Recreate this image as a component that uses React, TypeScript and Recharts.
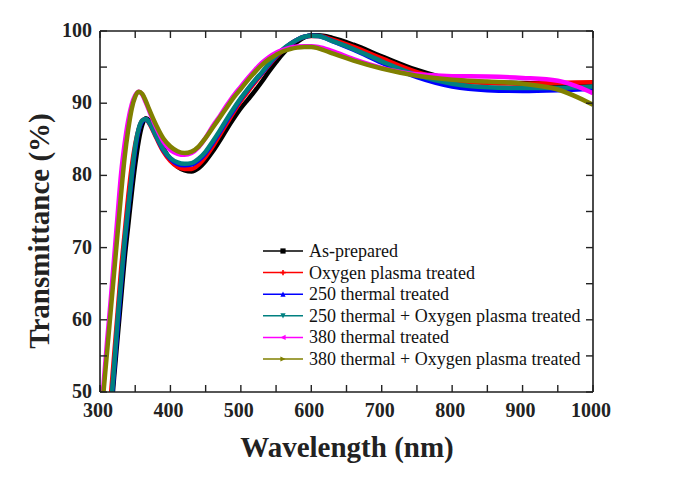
import React from 'react';
import { LineChart, Line, XAxis, YAxis, Legend } from 'recharts';

const wavelengths = [300,305,310,315,320,325,330,335,340,345,350,355,360,365,370,380,390,400,410,420,430,440,450,460,470,480,490,500,510,520,530,540,550,560,570,580,590,600,610,630,660,700,750,800,850,900,950,1000];

const asPrepared = [28,34,40,46,52,57.5,63,68.5,73,77.5,81.5,84.8,87,87.9,87.6,85.8,83.8,82.2,81.2,80.7,80.55,81.0,82.0,83.3,84.8,86.4,87.9,89.3,90.5,91.7,93.0,94.4,95.7,96.9,97.8,98.5,99.1,99.4,99.4,99.05,98.1,96.5,94.6,93.3,92.9,92.8,92.7,92.7];
const oxygenPlasma = [31,37,43,49,55,61,67,72,77,81.2,84.3,86.4,87.6,87.8,87.2,85.2,83.3,82.0,81.2,80.9,80.9,81.5,82.6,84.0,85.6,87.2,88.8,90.3,91.6,92.9,94.1,95.3,96.4,97.4,98.2,98.8,99.2,99.3,99.3,98.8,97.8,96.2,94.3,93.1,92.8,92.7,92.8,92.9];
const thermal250 = [29,35,41,47,53,59,65,70.5,75.2,79.6,83.6,86.3,87.5,87.8,87.3,85.4,83.5,82.3,81.6,81.4,81.5,82.1,83.1,84.5,86.0,87.6,89.1,90.6,91.9,93.1,94.2,95.4,96.5,97.4,98.2,98.8,99.2,99.35,99.3,98.6,97.4,95.6,93.6,92.3,91.8,91.7,91.8,92.0];
const thermal250Oxygen = [30,36,42,47.5,53.5,60,65.5,71,75.5,80,84,86.5,87.6,87.8,87.3,85.4,83.6,82.4,81.8,81.6,81.7,82.3,83.3,84.7,86.2,87.8,89.3,90.7,92.0,93.2,94.3,95.5,96.6,97.5,98.2,98.8,99.2,99.35,99.3,98.6,97.5,95.8,93.9,92.7,92.2,92.1,92.1,92.3];
const thermal380 = [46,51,57,62.5,68.5,74.5,80.3,84.4,87.6,89.8,91.1,91.6,91.2,90.1,88.9,86.6,84.7,83.5,83.0,82.85,83.1,83.9,85.2,86.8,88.2,89.7,91.1,92.3,93.5,94.6,95.6,96.4,97.0,97.4,97.7,97.85,97.9,97.9,97.8,97.2,96.1,94.9,94.0,93.75,93.7,93.5,93.1,91.4];
const thermal380Oxygen = [44.5,50,55.5,61,66.5,72,77.5,82.5,86.3,89.2,90.9,91.6,91.3,90.3,89.1,86.9,85.1,84.0,83.35,83.1,83.3,84.0,85.2,86.6,88.0,89.4,90.8,92.0,93.2,94.3,95.3,96.1,96.7,97.2,97.5,97.7,97.8,97.8,97.6,96.9,95.9,94.8,93.8,93.25,93.0,92.7,91.9,89.8];

const xTicks = [300,350,400,450,500,550,600,650,700,750,800,850,900,950,1000];
const yTicks = [50,55,60,65,70,75,80,85,90,95,100];

const seriesNames = [
  'As-prepared',
  'Oxygen plasma treated',
  '250 thermal treated',
  '250 thermal + Oxygen plasma treated',
  '380 thermal treated',
  '380 thermal + Oxygen plasma treated',
];
const seriesKeys = ['s0','s1','s2','s3','s4','s5'];
const seriesColors = ['#000000','#ff0000','#0000ff','#008080','#ff00ff','#808000'];
const seriesValues = [asPrepared, oxygenPlasma, thermal250, thermal250Oxygen, thermal380, thermal380Oxygen];

const rows = wavelengths.map((wl, i) => {
  const r: any = { wl };
  seriesKeys.forEach((k, j) => { r[k] = seriesValues[j][i]; });
  return r;
});

const FONT = "'Liberation Serif', 'Times New Roman', serif";
const AXIS = '#1e1e1e';
const TICKLEN = 7;
const tickLineStyle = { stroke: '#222', strokeWidth: 1.4 };
const axisLineStyle = { stroke: AXIS, strokeWidth: 1.6 };

const BottomLabel = (p: any) => {
  const v = p.payload.value;
  if (v % 100 !== 0) return <g />;
  return (
    <text x={p.x - 2} y={p.y + 25} textAnchor="middle" fontFamily={FONT} fontWeight="bold" fontSize={20} fill="#222">{v}</text>
  );
};
const LeftLabel = (p: any) => {
  const v = p.payload.value;
  if (v % 10 !== 0) return <g />;
  return (
    <text x={p.x - 8} y={p.y + 6} textAnchor="end" fontFamily={FONT} fontWeight="bold" fontSize={20} fill="#222">{v}</text>
  );
};
const NoLabel = () => <g />;

const Marker = ({ i, cx, cy, color }: any) => {
  const s = 2.6;
  switch (i) {
    case 0: return <rect x={cx - s} y={cy - s} width={2 * s} height={2 * s} fill={color} />;
    case 1: return <path d={`M${cx - s},${cy}H${cx + s}M${cx},${cy - s}V${cy + s}`} stroke={color} strokeWidth={1.6} />;
    case 2: return <path d={`M${cx},${cy - s}L${cx + s},${cy + s}L${cx - s},${cy + s}Z`} fill={color} />;
    case 3: return <path d={`M${cx},${cy + s}L${cx + s},${cy - s}L${cx - s},${cy - s}Z`} fill={color} />;
    case 4: return <path d={`M${cx - s},${cy}L${cx + s},${cy - s}L${cx + s},${cy + s}Z`} fill={color} />;
    default: return <path d={`M${cx + s},${cy}L${cx - s},${cy - s}L${cx - s},${cy + s}Z`} fill={color} />;
  }
};

const LegendContent = () => {
  const rowH = 21.6;
  return (
    <svg width={340} height={136} style={{ overflow: 'visible', display: 'block' }}>
      {seriesNames.map((name, i) => {
        const cy = 11 + i * rowH;
        return (
          <g key={name}>
            <line x1={8} x2={48} y1={cy} y2={cy} stroke={seriesColors[i]} strokeWidth={1.5} />
            <Marker i={i} cx={28} cy={cy} color={seriesColors[i]} />
            <text x={54} y={cy + 6} fontFamily={FONT} fontSize={18} fill="#111">{name}</text>
          </g>
        );
      })}
    </svg>
  );
};

export default function App() {
  return (
    <div style={{ position: 'absolute', left: 0, top: 0, width: 673, height: 484, background: '#fff' }}>
      <LineChart
        width={673}
        height={484}
        data={rows}
        margin={{ top: 21, right: 70, bottom: 62, left: 70 }}
        style={{ fontFamily: FONT }}
      >
        <XAxis
          dataKey="wl"
          type="number"
          domain={[300, 1000]}
          ticks={xTicks}
          interval={0}
          height={30}
          tickSize={-TICKLEN}
          tickMargin={TICKLEN}
          tick={<BottomLabel />}
          tickLine={tickLineStyle}
          axisLine={axisLineStyle}
          allowDataOverflow
        />
        <XAxis
          xAxisId="top"
          orientation="top"
          dataKey="wl"
          type="number"
          domain={[300, 1000]}
          ticks={xTicks}
          interval={0}
          height={10}
          tickSize={-TICKLEN}
          tickMargin={0}
          tick={<NoLabel />}
          tickLine={tickLineStyle}
          axisLine={axisLineStyle}
          allowDataOverflow
        />
        <YAxis
          type="number"
          domain={[50, 100]}
          ticks={yTicks}
          interval={0}
          width={30}
          tickSize={-TICKLEN}
          tickMargin={TICKLEN}
          tick={<LeftLabel />}
          tickLine={tickLineStyle}
          axisLine={axisLineStyle}
          allowDataOverflow
        />
        <YAxis
          yAxisId="right"
          orientation="right"
          dataKey="s0"
          type="number"
          domain={[50, 100]}
          ticks={yTicks}
          interval={0}
          width={10}
          tickSize={-TICKLEN}
          tickMargin={0}
          tick={<NoLabel />}
          tickLine={tickLineStyle}
          axisLine={axisLineStyle}
          allowDataOverflow
        />
        {seriesKeys.map((k, i) => (
          <Line
            key={k}
            dataKey={k}
            name={seriesNames[i]}
            type="monotone"
            stroke={seriesColors[i]}
            strokeWidth={4.5}
            dot={false}
            activeDot={false}
            isAnimationActive={false}
          />
        ))}
        <Legend
          layout="vertical"
          align="center"
          verticalAlign="middle"
          content={<LegendContent />}
          wrapperStyle={{ position: 'absolute', left: 255, top: 240, width: 340, height: 136, bottom: 'auto', right: 'auto', margin: 0 }}
        />
        <text x={39} y={231} transform="rotate(-90 39 231)" textAnchor="middle" dominantBaseline="central" fontFamily={FONT} fontWeight="bold" fontSize={29} fill="#222">Transmittance (%)</text>
        <text x={347} y={447} textAnchor="middle" dominantBaseline="central" fontFamily={FONT} fontWeight="bold" fontSize={29} fill="#222">Wavelength (nm)</text>
      </LineChart>
    </div>
  );
}
